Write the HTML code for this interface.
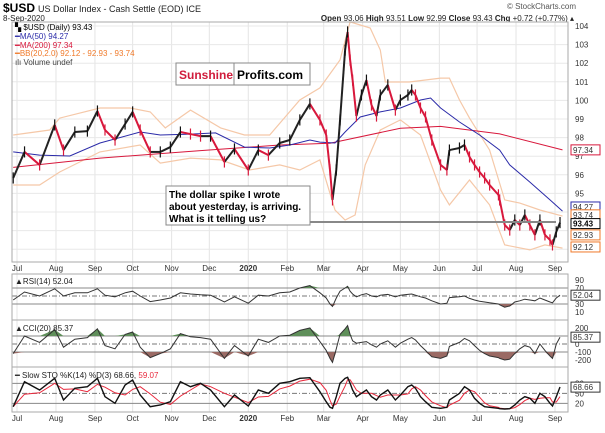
<!DOCTYPE html>
<html><head><meta charset="utf-8"><style>
body{margin:0;background:#fff;width:605px;height:428px;overflow:hidden;font-family:"Liberation Sans",sans-serif}
svg text{font-family:"Liberation Sans",sans-serif}
</style></head><body>
<svg id="c" width="605" height="428" xmlns="http://www.w3.org/2000/svg">
<text x="3" y="12" font-size="12" font-weight="bold" fill="#000">$USD</text>
<text x="38" y="12" font-size="9" fill="#222">US Dollar Index - Cash Settle (EOD) ICE</text>
<text x="3" y="21" font-size="8" fill="#222">8-Sep-2020</text>
<text x="576" y="9" font-size="8" fill="#555" text-anchor="end">© StockCharts.com</text>
<text x="574" y="21" font-size="8" fill="#222" text-anchor="end"><tspan font-weight="bold">Open</tspan> 93.06 <tspan font-weight="bold">High</tspan> 93.51 <tspan font-weight="bold">Low</tspan> 92.99 <tspan font-weight="bold">Close</tspan> 93.43 <tspan font-weight="bold">Chg</tspan> +0.72 (+0.77%) ▴</text>
<g id="grid"></g>
<g id="marks"></g>
<g id="frames"></g>
<g id="legend" font-size="8">
<text x="15" y="30" fill="#000">▚ $USD (Daily) 93.43</text>
<text x="15" y="39" fill="#2a2aa8">━MA(50) 94.27</text>
<text x="15" y="48" fill="#d8183c">━MA(200) 97.34</text>
<text x="15" y="56" fill="#f07a2a">━BB(20,2.0) 92.12 - 92.93 - 93.74</text>
<text x="15" y="65" fill="#444">ılı Volume undef</text>
</g>
<g>
<rect x="176" y="63" width="134" height="22" fill="#fff" stroke="#888"/>
<line x1="234" y1="63" x2="234" y2="85" stroke="#888"/>
<text x="179" y="79" font-size="12" font-weight="bold" fill="#d01c3c">Sunshine</text>
<text x="237" y="79" font-size="12" font-weight="bold" fill="#000">Profits.com</text>
</g>
<line x1="310" y1="222" x2="556" y2="222" stroke="#888" stroke-width="2"/>
<g>
<rect x="166" y="186" width="144" height="39" fill="#fff" stroke="#888"/>
<text font-size="10" font-weight="bold" fill="#000"><tspan x="169" y="198">The dollar spike I wrote</tspan><tspan x="169" y="210">about yesterday, is arriving.</tspan><tspan x="169" y="222">What is it telling us?</tspan></text>
</g>
</svg>
<script>
const days=[-3,6,18,30,37,46,56,64,70,78,86,92,98,106,114,122,130,138,146,154,165,173,184,192,200,209,217,225,233,241,246,249,251,254,257,261,263,265,267,270,274,278,282,286,289,295,301,305,311,314,317,321,325,330,337,342,344,352,356,360,364,368,372,376,383,384,388,392,396,400,404,408,412,416,420,424,426,429,432];
const closes=[95.83,97.23,96.53,98.68,97.33,98.3,98.35,99.43,98.41,97.87,98.73,99.38,98.41,97.23,97.23,97.49,98.3,98.19,98.08,98.08,96.69,97.39,96.26,97.33,97.06,97.71,97.87,98.95,99.81,98.95,98.14,96.26,94.65,96.26,98.95,102.7,103.68,102.17,101.09,99.16,100.29,101.09,99.75,99.16,100.29,100.83,99.48,100.02,100.29,100.56,100.29,99.59,99.11,97.87,96.53,96.26,97.33,97.44,97.6,96.96,96.53,96.15,95.83,95.45,94.92,94.65,93.3,93.03,93.57,93.3,93.84,93.3,92.77,93.57,92.77,92.5,92.23,92.93,93.43];
const rsi=[40,60,50,68,50,58,58,68,52,48,58,62,50,36,40,45,58,55,53,52,35,48,32,52,50,58,60,70,76,58,45,30,24,45,62,70,74,62,55,48,53,56,50,48,52,54,48,52,54,55,52,48,45,38,30,32,46,48,50,44,40,37,35,33,30,28,22,25,35,38,42,40,38,45,40,35,33,45,52];
const cci=[-120,100,20,180,-40,60,80,190,-20,-60,120,150,-40,-170,-120,-60,130,90,80,60,-180,-20,-150,60,20,100,110,170,200,30,-80,-180,-230,-60,120,190,230,120,40,10,20,30,-10,-40,0,40,-40,10,60,80,50,-20,-80,-160,-180,-150,-30,20,70,40,-20,-80,-120,-150,-170,-180,-200,-190,-120,-60,-20,-40,-120,0,-80,-150,-180,0,85];
const stoK=[10,85,60,95,30,65,70,95,40,20,75,90,45,10,15,25,85,70,80,60,10,45,12,60,50,80,85,95,97,55,25,8,5,40,80,95,98,80,60,40,50,60,40,30,45,60,30,45,70,75,65,40,25,8,5,8,30,50,70,60,35,20,10,8,5,4,3,4,15,30,40,35,20,50,40,20,12,40,69];
const ma50Days=[-3,18,42,66,98,114,138,158,181,201,217,233,241,253,261,273,289,305,321,329,337,352,368,384,392,408,424,434];
const ma50=[97.23,97.06,97.01,97.71,98.3,98.14,98.19,98.25,97.49,97.44,97.6,97.87,97.76,97.71,98.3,99.11,99.38,99.59,100.02,100.13,99.59,98.84,98.14,97.33,96.53,95.61,94.65,94.05];
const ma200Days=[-3,66,146,209,249,305,337,384,434];
const ma200=[96.4,96.9,97.3,97.6,97.7,98.5,98.6,98.2,97.34];
const bbUpDays=[-3,26,34,66,90,106,118,138,162,181,201,225,241,257,265,281,289,293,312,337,344,352,360,376,388,400,416,434];
const bbUp=[98.14,98.41,99.05,99.59,99.59,99.38,98.52,99.48,98.52,98.14,98.14,100.02,100.67,102.17,104.22,103.89,102.71,100.99,100.99,101.2,101.2,100.02,99.05,97.33,94.65,94.48,94.11,93.78];
const bbLoDays=[-3,18,34,66,98,114,138,162,185,209,225,241,253,261,269,277,289,305,321,337,344,360,376,388,408,420,434];
const bbLo=[95.45,95.45,96.15,97.23,97.6,96.63,96.9,96.8,96.26,96.53,96.26,96.8,94.11,93.57,93.84,96.53,98.41,98.95,98.14,95.18,94.38,95.72,94.38,92.23,91.96,92.23,92.06];
const monthDays=[0,31,62,92,123,153,184,215,244,275,305,336,366,397,428];
const monthLabels=["Jul","Aug","Sep","Oct","Nov","Dec","2020","Feb","Mar","Apr","May","Jun","Jul","Aug","Sep"];
const priceTicks=[104,103,102,101,100,99,98,97,96,95];

const NS="http://www.w3.org/2000/svg";
const L=12,R=568;
const xS=d=>17+d*1.257;
const yP=v=>26+(104-v)*18.6;
const yR=v=>316-v*0.4;
const yC=v=>344-v*0.08;
const yS=v=>410-v/3;
const grid=document.getElementById('grid'),marks=document.getElementById('marks'),frames=document.getElementById('frames');
function mk(tag,attrs,parent){const e=document.createElementNS(NS,tag);for(const k in attrs)e.setAttribute(k,attrs[k]);parent.appendChild(e);return e;}
function pts(xs,ys,fy){return xs.map((d,i)=>xS(d).toFixed(1)+','+fy(ys[i]).toFixed(1)).join(' ');}

monthDays.forEach((d,i)=>{
  const g=mk('line',{x1:xS(d),x2:xS(d),y1:22,y2:412,stroke:'#e4e4e4','stroke-width':1},grid);
  
  
  [271,421].forEach(yy=>{
    const t=mk('text',{x:xS(d),y:yy,'font-size':8,'text-anchor':'middle',fill:'#333','font-weight':monthLabels[i]==='2020'?'bold':'normal'},grid);
    t.textContent=monthLabels[i];
    
    
  });
});
priceTicks.concat([94,93,92]).forEach(v=>{
  const g=mk('line',{x1:L,x2:R,y1:yP(v),y2:yP(v),stroke:'#e8e8e8'},grid);
  
  
});
priceTicks.forEach(v=>{
  const t=mk('text',{x:575,y:yP(v)+3,'font-size':8,fill:'#333'},grid);
  t.textContent=v;
  
  
});

let e=mk('polyline',{points:pts(bbUpDays,bbUp,yP),fill:'none',stroke:'#f5c8a8','stroke-width':1.2},marks);


e=mk('polyline',{points:pts(bbLoDays,bbLo,yP),fill:'none',stroke:'#f5c8a8','stroke-width':1.2},marks);


e=mk('polyline',{points:pts(ma200Days,ma200,yP),fill:'none',stroke:'#d8183c','stroke-width':1},marks);


e=mk('polyline',{points:pts(ma50Days,ma50,yP),fill:'none',stroke:'#2a2aa8','stroke-width':1},marks);



// price: colored segments + thin bars at each close
for(let i=1;i<days.length;i++){
  const up=closes[i]>=closes[i-1];
  const s=mk('line',{x1:xS(days[i-1]),y1:yP(closes[i-1]),x2:xS(days[i]),y2:yP(closes[i]),stroke:up?'#222':'#d8183c','stroke-width':2},marks);
  
  
}
for(let i=0;i<days.length;i++){
  const up=i===0||closes[i]>=closes[i-1];
  const b=mk('line',{x1:xS(days[i]),x2:xS(days[i]),y1:yP(closes[i]+0.3),y2:yP(closes[i]-0.3),stroke:up?'#111':'#d8183c','stroke-width':1.2},marks);
  
  
}

function refLine(y,dash,name){const l=mk('line',{x1:L,x2:R,y1:y,y2:y,stroke:dash?'#777':'#888','stroke-width':1,'stroke-dasharray':dash?'5,2,1,2':'none'},marks);}
refLine(yR(70),false,'rsi-70-line');refLine(yR(30),false,'rsi-30-line');refLine(yR(50),true,'rsi-50-line');
refLine(yC(100),false,'cci-100-line');refLine(yC(-100),false,'cci-minus100-line');refLine(yC(0),true,'cci-0-line');
refLine(yS(80),false,'sto-80-line');refLine(yS(20),false,'sto-20-line');refLine(yS(50),true,'sto-50-line');

function fills(vals,fy,thrHi,thrLo,name){
  const ptsHi=days.map((d,i)=>xS(d).toFixed(1)+','+fy(Math.max(vals[i],thrHi)).toFixed(1));
  let p=mk('polygon',{points:xS(days[0])+','+fy(thrHi)+' '+ptsHi.join(' ')+' '+xS(days[days.length-1])+','+fy(thrHi),fill:'#5f8f5a'},marks);
  
  
  const ptsLo=days.map((d,i)=>xS(d).toFixed(1)+','+fy(Math.min(vals[i],thrLo)).toFixed(1));
  p=mk('polygon',{points:xS(days[0])+','+fy(thrLo)+' '+ptsLo.join(' ')+' '+xS(days[days.length-1])+','+fy(thrLo),fill:'#9a6a64'},marks);
  
  
}
fills(rsi,yR,70,30,'rsi');
fills(cci,yC,100,-100,'cci');
e=mk('polyline',{points:pts(days,rsi,yR),fill:'none',stroke:'#333','stroke-width':1},marks);


e=mk('polyline',{points:pts(days,cci,yC),fill:'none',stroke:'#333','stroke-width':1},marks);


const stoD=stoK.map((v,i)=>{const a=stoK.slice(Math.max(0,i-2),i+1);return a.reduce((s,x)=>s+x,0)/a.length;});
e=mk('polyline',{points:pts(days,stoD,yS),fill:'none',stroke:'#e8283c','stroke-width':1},marks);


e=mk('polyline',{points:pts(days,stoK,yS),fill:'none',stroke:'#111','stroke-width':1.4},marks);



[[22,262,'price-panel'],[274,320,'rsi-panel'],[320,367,'cci-panel'],[367,412,'sto-panel']].forEach(f=>{
  const r=mk('rect',{x:L,y:f[0],width:R-L,height:f[1]-f[0],fill:'none',stroke:'#aaa'},frames);
  
  
});
function axisText(x,y,s,name){const t=mk('text',{x:x,y:y,'font-size':8,fill:'#333'},frames);t.textContent=s;}
[90,70,30,10].forEach(v=>axisText(575,yR(v)+3,v,'rsi-axis-label'));
[[200,'200'],[0,'0'],[-100,'-100'],[-200,'-200']].forEach(v=>axisText(575,yC(v[0])+3,v[1],'cci-axis-label'));
[80,50,20].forEach(v=>axisText(575,yS(v)+3,v,'sto-axis-label'));
function tag(y,s,col,bold,name){
  const r=mk('rect',{x:571,y:y-5,width:29,height:10,fill:'#fff',stroke:col},frames);
  
  
  const t=mk('text',{x:573,y:y+3,'font-size':8,fill:bold?'#000':'#333','font-weight':bold?'bold':'normal'},frames);
  t.textContent=s;
  
  
}
tag(yP(97.34),'97.34','#d8183c',false,'ma200-tag');
tag(yP(94.27),'94.27','#2a2aa8',false,'ma50-tag');
tag(yP(93.74)-2,'93.74','#f07a2a',false,'bb-upper-tag');
tag(yP(93.43)+1,'93.43','#000',true,'close-tag');
tag(yP(92.93)+3,'92.93','#f07a2a',false,'bb-mid-tag');
tag(yP(92.12),'92.12','#f07a2a',false,'bb-lower-tag');
tag(yR(52.04),'52.04','#333',false,'rsi-tag');
tag(yC(85.37),'85.37','#333',false,'cci-tag');
tag(yS(68.66),'68.66','#333',false,'sto-tag');
function ptitle(y,html,name){const t=mk('text',{x:15,y:y,'font-size':8,fill:'#222'},frames);t.innerHTML=html;}
ptitle(284,'▲RSI(14) 52.04','rsi-title');
ptitle(331,'▲CCI(20) 85.37','cci-title');
ptitle(378,'━ Slow STO %K(14) %D(3) 68.66, <tspan fill="#e8283c">59.07</tspan>','sto-title');
</script>
</body></html>
